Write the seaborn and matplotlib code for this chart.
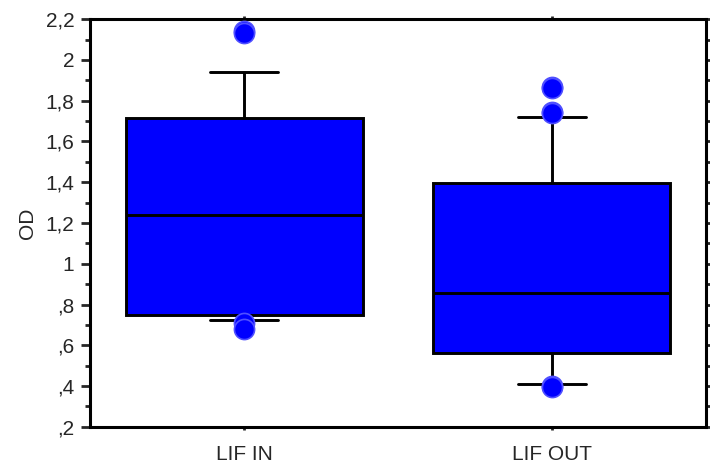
import matplotlib
matplotlib.use("Agg")
import matplotlib.pyplot as plt
from matplotlib.ticker import FixedLocator, MultipleLocator, FuncFormatter
import seaborn as sns
import pandas as pd

# five number summaries (lower whisker, Q1, median, Q3, upper whisker)
groups = ["LIF IN", "LIF OUT"]
lif_in_summary = [0.725, 0.75, 1.24, 1.715, 1.94]
lif_out_summary = [0.41, 0.56, 0.857, 1.395, 1.72]

# points beyond the whiskers
lif_in_outliers = [2.14, 2.13, 0.71, 0.68]
lif_out_outliers = [1.865, 1.86, 1.745, 1.74, 0.40, 0.395]

y_ticks = [0.2, 0.4, 0.6, 0.8, 1.0, 1.2, 1.4, 1.6, 1.8, 2.0, 2.2]

box_df = pd.DataFrame({
    "group": [groups[0]] * len(lif_in_summary) + [groups[1]] * len(lif_out_summary),
    "OD": lif_in_summary + lif_out_summary,
})
out_df = pd.DataFrame({
    "group": [groups[0]] * len(lif_in_outliers) + [groups[1]] * len(lif_out_outliers),
    "OD": lif_in_outliers + lif_out_outliers,
})

sns.set_style("white")
plt.rcParams["font.family"] = ["Liberation Sans", "DejaVu Sans"]

fig = plt.figure(figsize=(7.1, 4.67), dpi=100)
ax = fig.add_axes([0.127, 0.086, 0.867, 0.873])

sns.boxplot(data=box_df, x="group", y="OD", order=groups, ax=ax,
            color="#0000ff", saturation=1, width=0.77, whis=(0, 100),
            showfliers=False, linecolor="black", linewidth=2.1,
            capwidths=0.22)
sns.scatterplot(data=out_df, x="group", y="OD", ax=ax, s=210,
                color="#0000ff", edgecolor="#5050ff", linewidth=1.2, zorder=5)

ax.set_xlim(-0.5, 1.5)
ax.set_ylim(0.2, 2.2)
ax.yaxis.set_major_locator(FixedLocator(y_ticks))
ax.yaxis.set_minor_locator(MultipleLocator(0.1))


def comma_fmt(v, pos):
    s = ("%.1f" % v).replace(".", ",")
    if s.endswith(",0"):
        s = s[:-2]
    if s.startswith("0,"):
        s = s[1:]
    return s


ax.yaxis.set_major_formatter(FuncFormatter(comma_fmt))
ax.set_xlabel("")
ax.set_ylabel("OD", fontsize=15, labelpad=6)
ax.tick_params(axis="y", which="major", direction="out", length=6.5, width=2,
               labelsize=15, right=True, left=True, pad=5)
ax.tick_params(axis="y", which="minor", direction="out", length=3.5, width=2,
               right=True, left=True)
ax.tick_params(axis="x", direction="out", length=2, width=2, labelsize=15,
               top=True, bottom=True, pad=11)
for sp in ax.spines.values():
    sp.set_visible(True)
    sp.set_linewidth(2.2)
    sp.set_color("black")

fig.savefig("out.png", dpi=100)
